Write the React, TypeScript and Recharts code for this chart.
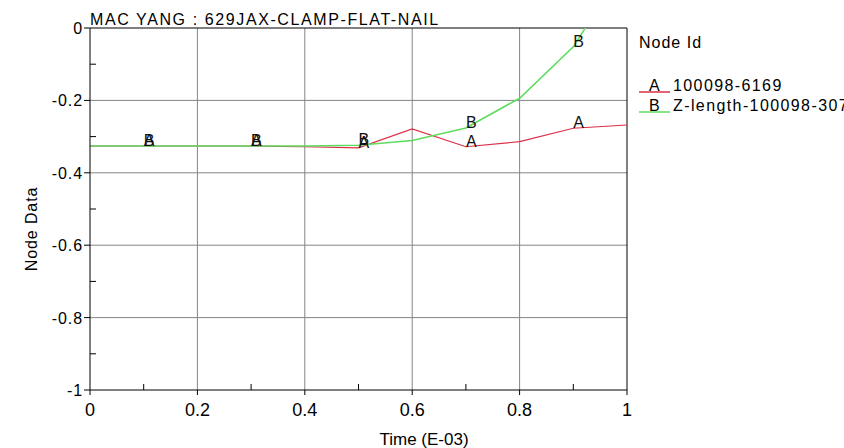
import React from 'react'
import { LineChart, Line, XAxis, YAxis, ReferenceLine, LabelList } from 'recharts'

// time axis (E-03) and node values
const time = [0, 0.1, 0.2, 0.3, 0.4, 0.5, 0.6, 0.7, 0.8, 0.9, 1]
const nodeA = [-0.326, -0.326, -0.326, -0.326, -0.328, -0.331, -0.279, -0.328, -0.314, -0.277, -0.268]
const nodeB = [-0.326, -0.326, -0.326, -0.326, -0.326, -0.324, -0.311, -0.276, -0.194, -0.052, 0.18]

const xTicks = [0, 0.1, 0.2, 0.3, 0.4, 0.5, 0.6, 0.7, 0.8, 0.9, 1]
const yTicks = [-1, -0.9, -0.8, -0.7, -0.6, -0.5, -0.4, -0.3, -0.2, -0.1, 0]
const xGrid = [0.2, 0.4, 0.6, 0.8]
const yGrid = [-0.8, -0.6, -0.4, -0.2]

const seriesA = { key: 'A', name: '100098-6169', color: '#dc2f45' }
const seriesB = { key: 'B', name: 'Z-length-100098-307', color: '#5fdc5f' }

const data = time.map((t, i) => ({ t, A: nodeA[i], B: nodeB[i] }))

const FONT = '"Liberation Sans", Arial, Helvetica, sans-serif'
const W = 844
const H = 448

const isMajor = (v: number) => Math.round(v * 10) % 2 === 0
const fmt = (v: number) => String(Number(v.toFixed(1)))

function XTick(props: any) {
  const { x, y, payload } = props
  const v = payload.value
  if (!isMajor(v)) {
    return <line x1={x} x2={x} y1={y} y2={y - 6} stroke="#000" />
  }
  return (
    <g>
      <line x1={x} x2={x} y1={y} y2={y + 5} stroke="#000" />
      <text x={x} y={y + 26} textAnchor="middle" fontSize={18} fontFamily={FONT} fill="#000">
        {fmt(v)}
      </text>
    </g>
  )
}

function YTick(props: any) {
  const { x, y, payload } = props
  const v = payload.value
  if (!isMajor(v)) {
    return <line x1={x} x2={x + 6} y1={y} y2={y} stroke="#000" />
  }
  return (
    <g>
      <line x1={x - 6} x2={x} y1={y} y2={y} stroke="#000" />
      <text x={x - 7} y={y + 6} textAnchor="end" fontSize={16} letterSpacing={0.9} fontFamily={FONT} fill="#000">
        {fmt(v)}
      </text>
    </g>
  )
}

// letters A / B written at every other sample
const pointLabel = (letter: string) => (props: any) => {
  const { x, y, index, value } = props
  if (index % 2 !== 1 || value > 0) return null
  return (
    <text x={x} y={y} fontSize={16} fontFamily={FONT} fill="#111">
      {letter}
    </text>
  )
}

export default function App() {
  return (
    <div style={{ position: 'relative', width: W, height: H, background: '#fff' }}>
      <style>{`body{margin:0}`}</style>
      <LineChart width={W} height={H} data={data} margin={{ top: 28, right: 217, bottom: 0, left: 0 }}>
        <XAxis
          dataKey="t"
          type="number"
          domain={[0, 1]}
          ticks={xTicks}
          interval={0}
          tickSize={0}
          tickMargin={0}
          tickLine={false}
          tick={<XTick />}
          height={58}
          axisLine={{ stroke: '#000' }}
        />
        <YAxis
          type="number"
          domain={[-1, 0]}
          allowDataOverflow
          ticks={yTicks}
          interval={0}
          tickSize={0}
          tickMargin={0}
          tickLine={false}
          tick={<YTick />}
          width={90}
          axisLine={{ stroke: '#000' }}
        />
        {xGrid.map((v) => (
          <ReferenceLine key={'x' + v} x={v} stroke="#858585" />
        ))}
        {yGrid.map((v) => (
          <ReferenceLine key={'y' + v} y={v} stroke="#858585" />
        ))}
        <ReferenceLine y={0} stroke="#000" />
        <ReferenceLine x={1} stroke="#000" />
        <Line type="linear" dataKey="A" stroke={seriesA.color} strokeWidth={1.2} dot={false} isAnimationActive={false}>
          <LabelList dataKey="A" content={pointLabel('A')} />
        </Line>
        <Line type="linear" dataKey="B" stroke={seriesB.color} strokeWidth={1.6} dot={false} isAnimationActive={false}>
          <LabelList dataKey="B" content={pointLabel('B')} />
        </Line>
      </LineChart>
      <svg width={W} height={H} style={{ position: 'absolute', left: 0, top: 0, pointerEvents: 'none' }}>
        <g fontFamily={FONT} fill="#000">
          <text x={90} y={25} fontSize={16} letterSpacing={1.6}>MAC YANG : 629JAX-CLAMP-FLAT-NAIL</text>
          <text x={639} y={48} fontSize={16} letterSpacing={1}>Node Id</text>
          {[seriesA, seriesB].map((s, i) => (
            <g key={s.key}>
              <line x1={639} x2={670} y1={92 + i * 20} y2={92 + i * 20} stroke={s.color} strokeWidth={1.5} />
              <text x={649} y={91 + i * 20} fontSize={16}>{s.key}</text>
              <text x={673} y={91 + i * 20} fontSize={16} letterSpacing={1.4}>{s.name}</text>
            </g>
          ))}
          <text x={424} y={445} fontSize={17} textAnchor="middle">Time (E-03)</text>
          <text x={37} y={229} fontSize={16} letterSpacing={0.9} textAnchor="middle" transform="rotate(-90 37 229)">
            Node Data
          </text>
        </g>
      </svg>
    </div>
  )
}
